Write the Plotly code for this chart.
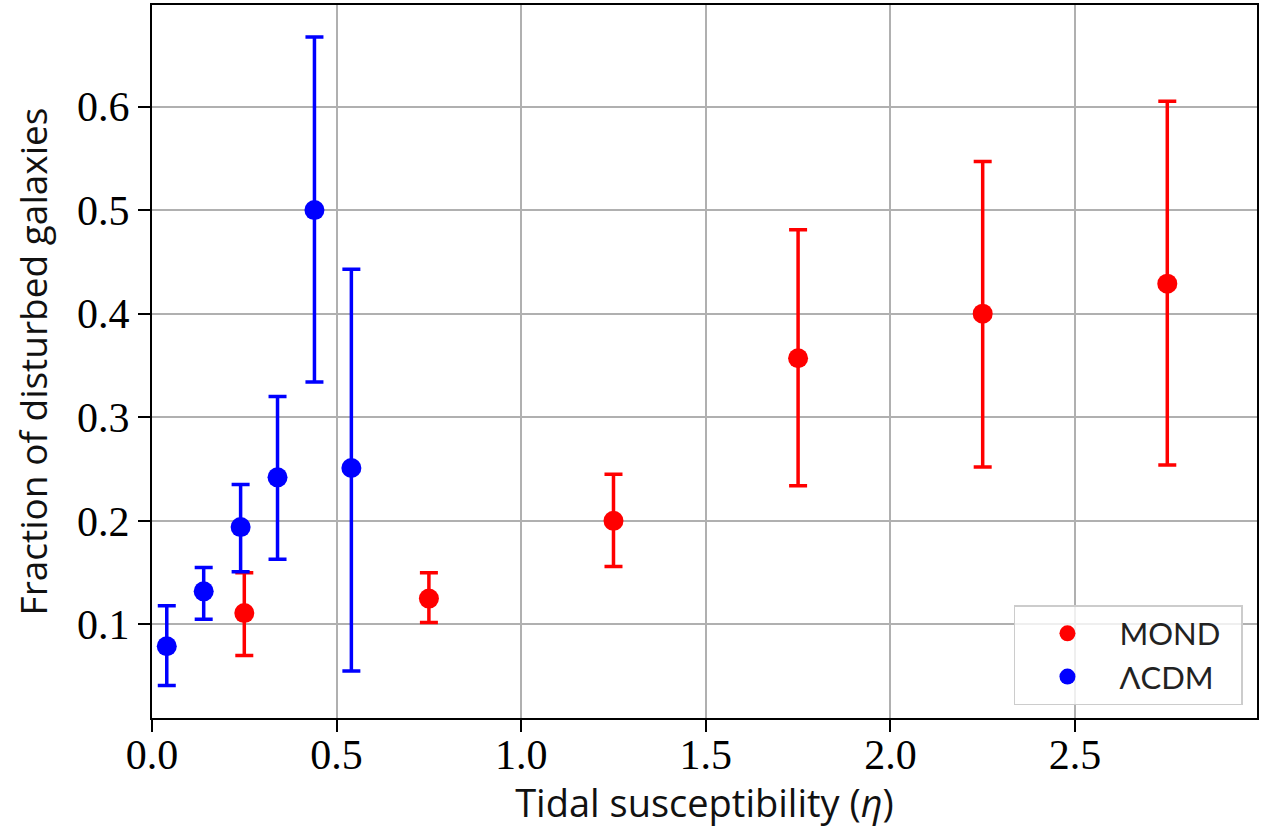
import plotly.graph_objects as go

# ΛCDM
lcdm_x = [0.04, 0.14, 0.24, 0.34, 0.44, 0.54]
lcdm_y = [0.079, 0.132, 0.194, 0.242, 0.500, 0.251]
lcdm_hi = [0.118, 0.155, 0.235, 0.320, 0.667, 0.443]
lcdm_lo = [0.041, 0.105, 0.151, 0.163, 0.334, 0.055]

# MOND
mond_x = [0.25, 0.75, 1.25, 1.75, 2.25, 2.75]
mond_y = [0.111, 0.125, 0.200, 0.357, 0.400, 0.429]
mond_hi = [0.150, 0.150, 0.245, 0.481, 0.547, 0.605]
mond_lo = [0.070, 0.102, 0.156, 0.234, 0.252, 0.254]

x_ticks = [0.0, 0.5, 1.0, 1.5, 2.0, 2.5]
y_ticks = [0.1, 0.2, 0.3, 0.4, 0.5, 0.6]


def err(vals, bounds, upper):
    return [(b - v) if upper else (v - b) for v, b in zip(vals, bounds)]


fig = go.Figure()
for name, xs, ys, hi, lo, col in [
    ("MOND", mond_x, mond_y, mond_hi, mond_lo, "#ff0000"),
    ("ΛCDM", lcdm_x, lcdm_y, lcdm_hi, lcdm_lo, "#0000ff"),
]:
    fig.add_trace(go.Scatter(
        x=xs, y=ys, mode="markers", name=name + "\u00a0\u00a0",
        marker=dict(color=col, size=20),
        error_y=dict(type="data", symmetric=False,
                     array=err(ys, hi, True), arrayminus=err(ys, lo, False),
                     color=col, thickness=3.5, width=9),
    ))

tick_font = dict(family="Liberation Serif, Times New Roman, serif", size=42, color="black")
xlabel_font = dict(family="Open Sans, Lato, sans-serif", size=38, color="#111")
ylabel_font = dict(family="Open Sans, Lato, sans-serif", size=37, color="#111")

fig.update_layout(
    width=1265, height=828,
    margin=dict(l=152, r=8, t=5, b=110, autoexpand=False),
    paper_bgcolor="white", plot_bgcolor="white",
    showlegend=True,
    legend=dict(
        x=0.9873, y=0.018, xanchor="right", yanchor="bottom",
        bgcolor="rgba(255,255,255,0.8)", bordercolor="#cccccc", borderwidth=1.5,
        font=dict(family="Lato, Open Sans, sans-serif", size=31, color="#222"),
        itemwidth=94,
    ),
)
common = dict(
    showgrid=True, gridcolor="#b0b0b0", gridwidth=2,
    showline=True, linecolor="black", linewidth=2, mirror=True,
    ticks="outside", ticklen=12, tickwidth=2, tickcolor="black",
    tickfont=tick_font, zeroline=False, automargin=False,
)
fig.update_xaxes(
    range=[0, 2.993], tickvals=x_ticks, ticktext=[f"{v:.1f}" for v in x_ticks],
    ticklabelstandoff=-13,
    title=dict(text="Tidal susceptibility (<i>η</i>)", font=xlabel_font, standoff=13),
    **common,
)
fig.update_yaxes(
    range=[0.0097, 0.698], tickvals=y_ticks, ticktext=[f"{v:.1f}" for v in y_ticks],
    ticklabelstandoff=0,
    title=dict(text="Fraction of disturbed galaxies", font=ylabel_font, standoff=18),
    **common,
)

fig.write_html("out.html", config={"displayModeBar": False},
               post_script="document.body.style.margin='0';")
